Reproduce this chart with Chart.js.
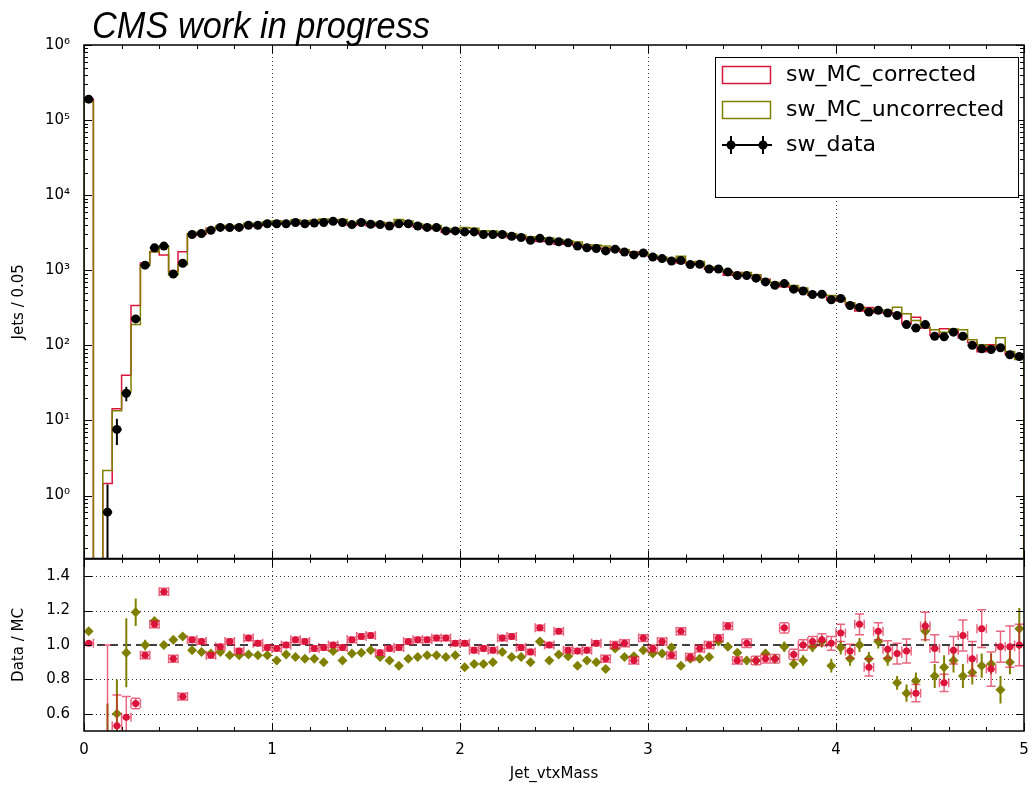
<!DOCTYPE html>
<html>
<head>
<meta charset="utf-8">
<title>Jet_vtxMass</title>
<script src="https://cdn.jsdelivr.net/npm/chart.js@4.4.1/dist/chart.umd.min.js"></script>
<style>
  body { margin: 0; background: #fff; }
  #wrap { position: relative; width: 1033px; height: 785px; overflow: hidden; }
  canvas { position: absolute; left: 0; }
  #top { top: 0; }
  #bottom { top: 554px; }
</style>
</head>
<body>
<div id="wrap">
  <canvas id="top" width="1033" height="563"></canvas>
  <canvas id="bottom" width="1033" height="231"></canvas>
</div>
<script>
// binning
const binWidth = 0.05;
const xMin = 0;
const xMax = 5;
const xTickValues = [0, 1, 2, 3, 4, 5];
const xGridValues = [1, 2, 3, 4];
const xMinorStep = 0.2;

// top panel axis
const topYMin = 0.145;
const topYMax = 1e6;
const topYDecades = [0, 1, 2, 3, 4, 5, 6];

// ratio panel axis
const ratioYMin = 0.5;
const ratioYMax = 1.5;
const ratioTicks = [0.6, 0.8, 1.0, 1.2, 1.4];
const ratioGrid = [0.6, 0.8, 1.2, 1.4];
const ratioRef = 1.0;

// jets per bin
const dataCounts = [
  190000, 0, 0.6, 7.6, 23, 225, 1170, 1990, 2100, 890,
  1240, 2990, 3090, 3400, 3720, 3700, 3720, 3980, 3980, 4170,
  4170, 4170, 4330, 4170, 4250, 4330, 4500, 4330, 4060, 4330,
  4100, 4060, 3880, 4170, 4170, 3880, 3720, 3700, 3340, 3340,
  3240, 3240, 2990, 2990, 2990, 2840, 2730, 2510, 2660, 2450,
  2400, 2320, 2100, 1990, 1950, 1810, 1910, 1750, 1600, 1700,
  1500, 1430, 1330, 1350, 1190, 1200, 1040, 1040, 950, 850,
  850, 785, 700, 630, 665, 560, 530, 475, 480, 405,
  420, 340, 320, 278, 293, 270, 250, 189, 170, 189,
  132, 130, 150, 132, 100, 90, 88, 93, 75, 71
];
// only the low bins have visible error bars
const dataErr = [430, 0, 0.8, 2.9, 5, 15, 34, 45, 46, 30, 35, 55];

const mcCorrected = [
  188000, 0, 1.45, 14.3, 40, 340, 1245, 1777, 1603, 967,
  1771, 2903, 3029, 3617, 3758, 3627, 3855, 3827, 3941, 4234,
  4255, 4170, 4204, 4088, 4337, 4396, 4500, 4396, 3942, 4124,
  3886, 4251, 3959, 4234, 4088, 3767, 3612, 3558, 3212, 3307,
  3208, 3340, 3051, 3082, 2875, 2705, 2772, 2615, 2418, 2450,
  2222, 2392, 2176, 2052, 1931, 1967, 1910, 1733, 1758, 1635,
  1531, 1402, 1415, 1250, 1280, 1224, 1040, 1000, 856, 934,
  842, 863, 761, 685, 605, 593, 530, 466, 466, 401,
  393, 352, 286, 320, 271, 277, 263, 196, 236, 170,
  135, 167, 155, 125, 109, 82, 102, 94, 76, 71
];

const mcUncorrected = [
  176000, 0, 2.15, 13.5, 24, 189, 1170, 1746, 2100, 864,
  1181, 3082, 3219, 3579, 3875, 3936, 3957, 4212, 4234, 4436,
  4582, 4413, 4656, 4533, 4620, 4811, 4663, 4758, 4274, 4534,
  4227, 4366, 4264, 4739, 4533, 4172, 3957, 3936, 3591, 3553,
  3724, 3640, 3360, 3322, 3115, 3054, 2935, 2789, 2608, 2692,
  2540, 2481, 2386, 2187, 2167, 2105, 1949, 1882, 1711, 1753,
  1579, 1505, 1350, 1534, 1293, 1304, 1118, 1020, 960, 890,
  934, 863, 737, 685, 672, 629, 582, 480, 471, 460,
  426, 370, 320, 302, 287, 293, 321, 263, 215, 175,
  161, 149, 165, 161, 119, 102, 99, 126, 83, 65
];

// Data / MC
const ratioCorrected = [
  1.01, null, 0.42, 0.53, 0.58, 0.66, 0.94, 1.12, 1.31, 0.92,
  0.70, 1.03, 1.02, 0.94, 0.99, 1.02, 0.965, 1.04, 1.01, 0.985,
  0.98, 1.0, 1.03, 1.02, 0.98, 0.985, 1.0, 0.985, 1.03, 1.05,
  1.055, 0.955, 0.98, 0.985, 1.02, 1.03, 1.03, 1.04, 1.04, 1.01,
  1.01, 0.97, 0.98, 0.97, 1.04, 1.05, 0.985, 0.96, 1.10, 1.0,
  1.08, 0.97, 0.965, 0.97, 1.01, 0.92, 1.0, 1.01, 0.91, 1.04,
  0.98, 1.02, 0.94, 1.08, 0.93, 0.98, 1.0, 1.04, 1.11, 0.91,
  1.01, 0.91, 0.92, 0.92, 1.10, 0.945, 1.0, 1.02, 1.03, 1.01,
  1.07, 0.965, 1.12, 0.87, 1.08, 0.975, 0.95, 0.965, 0.72, 1.11,
  0.98, 0.78, 0.97, 1.055, 0.92, 1.095, 0.86, 0.99, 0.99, 1.0
];
const errCorrected = [
  0.005, 0, 0.58, 0.18, 0.12, 0.03, 0.02, 0.02, 0.02, 0.02,
  0.02, 0.015, 0.015, 0.015, 0.015, 0.015, 0.015, 0.015, 0.015, 0.015,
  0.015, 0.015, 0.015, 0.015, 0.015, 0.015, 0.015, 0.015, 0.015, 0.015,
  0.015, 0.015, 0.015, 0.015, 0.015, 0.015, 0.015, 0.015, 0.015, 0.015,
  0.015, 0.015, 0.015, 0.015, 0.015, 0.015, 0.015, 0.015, 0.015, 0.015,
  0.015, 0.015, 0.015, 0.015, 0.015, 0.02, 0.02, 0.02, 0.02, 0.02,
  0.02, 0.02, 0.02, 0.02, 0.02, 0.02, 0.02, 0.02, 0.02, 0.02,
  0.025, 0.025, 0.025, 0.025, 0.03, 0.03, 0.03, 0.03, 0.035, 0.04,
  0.05, 0.04, 0.06, 0.05, 0.05, 0.05, 0.06, 0.07, 0.05, 0.08,
  0.08, 0.05, 0.08, 0.09, 0.1, 0.11, 0.1, 0.09, 0.12, 0.12
];

const ratioUncorrected = [
  1.08, null, 0.28, 0.6, 0.955, 1.19, 1.0, 1.14, 1.0, 1.03,
  1.05, 0.97, 0.96, 0.95, 0.96, 0.94, 0.94, 0.945, 0.94, 0.94,
  0.91, 0.945, 0.93, 0.92, 0.92, 0.9, 0.965, 0.91, 0.95, 0.955,
  0.97, 0.93, 0.91, 0.88, 0.92, 0.93, 0.94, 0.94, 0.93, 0.94,
  0.87, 0.89, 0.89, 0.9, 0.96, 0.93, 0.93, 0.9, 1.02, 0.91,
  0.945, 0.935, 0.88, 0.91, 0.9, 0.86, 0.98, 0.93, 0.935, 0.97,
  0.95, 0.95, 0.985, 0.88, 0.92, 0.92, 0.93, 1.02, 0.99, 0.955,
  0.91, 0.91, 0.95, 0.92, 0.99, 0.89, 0.91, 0.99, 1.02, 0.88,
  0.985, 0.92, 1.0, 0.92, 1.02, 0.92, 0.78, 0.72, 0.79, 1.08,
  0.82, 0.87, 0.91, 0.82, 0.84, 0.88, 0.89, 0.74, 0.9, 1.095
];
const errUncorrected = [
  0.005, 0, 0.38, 0.2, 0.2, 0.08, 0.03, 0.02, 0.02, 0.02,
  0.012, 0.012, 0.012, 0.012, 0.012, 0.012, 0.012, 0.012, 0.012, 0.012,
  0.012, 0.012, 0.012, 0.012, 0.012, 0.012, 0.012, 0.012, 0.012, 0.012,
  0.012, 0.012, 0.012, 0.012, 0.012, 0.012, 0.012, 0.012, 0.012, 0.012,
  0.012, 0.012, 0.012, 0.012, 0.012, 0.012, 0.012, 0.012, 0.012, 0.012,
  0.015, 0.015, 0.015, 0.015, 0.015, 0.015, 0.015, 0.015, 0.015, 0.015,
  0.02, 0.02, 0.02, 0.02, 0.02, 0.02, 0.02, 0.02, 0.02, 0.02,
  0.025, 0.025, 0.025, 0.025, 0.03, 0.03, 0.03, 0.03, 0.035, 0.04,
  0.04, 0.04, 0.04, 0.04, 0.04, 0.04, 0.04, 0.05, 0.05, 0.06,
  0.07, 0.07, 0.07, 0.07, 0.07, 0.07, 0.06, 0.08, 0.07, 0.12
];

const CRIMSON = "#dc143c";
const OLIVE = "#808000";
const SUP = ["⁰", "¹", "²", "³", "⁴", "⁵", "⁶", "⁷", "⁸", "⁹"];

Chart.defaults.font.family = '"DejaVu Sans", sans-serif';
Chart.defaults.font.size = 15;
Chart.defaults.color = "#000";

// empty bins sit below the log axis
const logFloor = 1e-3;

function stepPoints(vals) {
  const pts = [{ x: xMin, y: logFloor }];
  vals.forEach((v, i) => pts.push({ x: xMin + i * binWidth, y: v > 0 ? v : logFloor }));
  pts.push({ x: xMin + vals.length * binWidth, y: vals[vals.length - 1] });
  pts.push({ x: xMin + vals.length * binWidth, y: logFloor });
  return pts;
}

function centerPoints(vals, errs) {
  const pts = [];
  vals.forEach((v, i) => {
    if (v === null || v === 0) return;
    pts.push({ x: xMin + (i + 0.5) * binWidth, y: v, e: errs[i] || 0 });
  });
  return pts;
}

function minorValues(from, to, step) {
  const out = [];
  for (let v = from; v <= to + 1e-9; v += step) out.push(Math.round(v * 1000) / 1000);
  return out;
}

function logMinorValues() {
  const out = [];
  for (let k = -1; k <= 5; k++) {
    for (let m = 2; m <= 9; m++) {
      const v = m * Math.pow(10, k);
      if (v > topYMin && v < topYMax) out.push(v);
    }
  }
  return out;
}

// fixed axis box sizes so both panels line up
function fixY(s) {
  s.width = 84;
  s.paddingTop = 0;
  s.paddingBottom = 0;
}
function fixX(s) {
  s.height = 54;
}

// grid, inward ticks, frame and error bars
const axisDecor = {
  id: "axisDecor",
  beforeDatasetsDraw(chart, args, o) {
    const { ctx, chartArea: a } = chart;
    const x = chart.scales.x, y = chart.scales.y;
    ctx.save();
    ctx.strokeStyle = "#333";
    ctx.lineWidth = 1;
    ctx.setLineDash([1, 3]);
    ctx.beginPath();
    o.xGrid.forEach((v) => {
      const p = Math.round(x.getPixelForValue(v)) + 0.5;
      ctx.moveTo(p, a.top);
      ctx.lineTo(p, a.bottom);
    });
    o.yGrid.forEach((v) => {
      const p = Math.round(y.getPixelForValue(v)) + 0.5;
      ctx.moveTo(a.left, p);
      ctx.lineTo(a.right, p);
    });
    ctx.stroke();
    ctx.restore();
  },
  beforeDatasetDraw(chart, args) {
    const ds = chart.data.datasets[args.index];
    const st = ds.errStyle;
    if (!st) return;
    const { ctx, chartArea: a } = chart;
    const x = chart.scales.x, y = chart.scales.y;
    ctx.save();
    ctx.beginPath();
    ctx.rect(a.left, a.top, a.width, a.height);
    ctx.clip();
    ctx.strokeStyle = st.color;
    ctx.lineWidth = st.width;
    ctx.beginPath();
    ds.data.forEach((p) => {
      const px = x.getPixelForValue(p.x);
      const py = y.getPixelForValue(p.y);
      let low = p.y - p.e;
      if (st.floor !== undefined && low <= 0) low = st.floor;
      const lo = y.getPixelForValue(low);
      const hi = y.getPixelForValue(p.y + p.e);
      if (p.e > 0) {
        ctx.moveTo(px, lo);
        ctx.lineTo(px, hi);
        if (st.cap) {
          ctx.moveTo(px - st.cap, lo);
          ctx.lineTo(px + st.cap, lo);
          ctx.moveTo(px - st.cap, hi);
          ctx.lineTo(px + st.cap, hi);
        }
      }
      if (st.xHalf) {
        const x0 = x.getPixelForValue(p.x - st.xHalf);
        const x1 = x.getPixelForValue(p.x + st.xHalf);
        ctx.moveTo(x0, py);
        ctx.lineTo(x1, py);
        if (st.cap) {
          ctx.moveTo(x0, py - st.cap);
          ctx.lineTo(x0, py + st.cap);
          ctx.moveTo(x1, py - st.cap);
          ctx.lineTo(x1, py + st.cap);
        }
      }
    });
    ctx.stroke();
    ctx.restore();
  },
  afterDatasetsDraw(chart, args, o) {
    const { ctx, chartArea: a } = chart;
    const x = chart.scales.x, y = chart.scales.y;
    ctx.save();
    ctx.strokeStyle = "#000";
    ctx.lineWidth = 1;
    ctx.beginPath();
    const tick = (vals, len, horizontal) => {
      vals.forEach((v) => {
        if (horizontal) {
          const p = Math.round(x.getPixelForValue(v)) + 0.5;
          ctx.moveTo(p, a.bottom); ctx.lineTo(p, a.bottom - len);
          ctx.moveTo(p, a.top); ctx.lineTo(p, a.top + len);
        } else {
          const p = Math.round(y.getPixelForValue(v)) + 0.5;
          ctx.moveTo(a.left, p); ctx.lineTo(a.left + len, p);
          ctx.moveTo(a.right, p); ctx.lineTo(a.right - len, p);
        }
      });
    };
    tick(o.xMajor, 8, true);
    tick(o.xMinor, 4, true);
    tick(o.yMajor, 8, false);
    tick(o.yMinor, 4, false);
    ctx.stroke();
    ctx.lineWidth = 1.5;
    ctx.strokeRect(a.left, a.top, a.width, a.height);
    ctx.restore();
  },
  afterDraw(chart, args, o) {
    if (o.extras) o.extras(chart);
  }
};

function drawTitleAndLegend(chart) {
  const ctx = chart.ctx;
  const ds = chart.data.datasets;
  ctx.save();
  ctx.fillStyle = "#000";
  ctx.font = 'italic 36px "Liberation Sans", sans-serif';
  ctx.textBaseline = "alphabetic";
  const title = "CMS work in progress";
  const w = ctx.measureText(title).width;
  ctx.translate(92, 38);
  ctx.scale(338 / w, 1);
  ctx.fillText(title, 0, 0);
  ctx.restore();

  ctx.save();
  ctx.fillStyle = "#fff";
  ctx.fillRect(715, 57, 303, 140);
  ctx.strokeStyle = "#000";
  ctx.lineWidth = 1;
  ctx.strokeRect(715.5, 57.5, 303, 140);

  const rows = [75, 110, 145];
  ctx.lineWidth = 1.5;
  [0, 1].forEach((k) => {
    ctx.strokeStyle = ds[k].borderColor;
    ctx.strokeRect(722.5, rows[k] - 8.5, 48, 17);
  });
  // data entry: markers with error bars
  ctx.strokeStyle = "#000";
  ctx.fillStyle = "#000";
  ctx.lineWidth = 2;
  ctx.beginPath();
  ctx.moveTo(722, rows[2]); ctx.lineTo(772, rows[2]);
  [731, 763].forEach((cx) => { ctx.moveTo(cx, rows[2] - 9); ctx.lineTo(cx, rows[2] + 9); });
  ctx.stroke();
  [731, 763].forEach((cx) => {
    ctx.beginPath();
    ctx.arc(cx, rows[2], 4.5, 0, Math.PI * 2);
    ctx.fill();
  });

  ctx.fillStyle = "#000";
  ctx.font = '22px "DejaVu Sans", sans-serif';
  ctx.textBaseline = "middle";
  [0, 1, 2].forEach((k) => ctx.fillText(ds[k].label, 786, rows[k]));
  ctx.restore();
}

const xMinorTicks = minorValues(xMin, xMax, xMinorStep);

new Chart(document.getElementById("top"), {
  type: "line",
  data: {
    datasets: [
      {
        label: "sw_MC_corrected",
        data: stepPoints(mcCorrected),
        borderColor: CRIMSON,
        borderWidth: 1.5,
        stepped: "before",
        pointRadius: 0,
        fill: false,
        order: 2
      },
      {
        label: "sw_MC_uncorrected",
        data: stepPoints(mcUncorrected),
        borderColor: OLIVE,
        borderWidth: 1.5,
        stepped: "before",
        pointRadius: 0,
        fill: false,
        order: 1
      },
      {
        label: "sw_data",
        type: "scatter",
        data: centerPoints(dataCounts, dataErr),
        showLine: false,
        pointRadius: 4.5,
        pointBackgroundColor: "#000",
        pointBorderColor: "#000",
        pointBorderWidth: 0,
        errStyle: { color: "#000", width: 2, cap: 0, xHalf: binWidth / 2, floor: logFloor },
        order: 0
      }
    ]
  },
  options: {
    responsive: false,
    animation: false,
    layout: { padding: { top: 45, bottom: 2, left: 0, right: 9 } },
    scales: {
      x: { type: "linear", min: xMin, max: xMax, display: false },
      y: {
        type: "logarithmic",
        min: topYMin,
        max: topYMax,
        afterBuildTicks: (s) => { s.ticks = topYDecades.map((k) => ({ value: Math.pow(10, k) })); },
        afterFit: fixY,
        ticks: {
          autoSkip: false,
          padding: 6,
          callback: (v) => "10" + SUP[Math.round(Math.log10(v))]
        },
        grid: { display: false },
        border: { display: false },
        title: { display: true, text: "Jets / 0.05", font: { size: 15 }, padding: { top: 10, bottom: 0 } }
      }
    },
    plugins: {
      legend: { display: false },
      tooltip: { enabled: false },
      axisDecor: {
        xGrid: xGridValues,
        yGrid: [],
        xMajor: xTickValues,
        xMinor: xMinorTicks,
        yMajor: topYDecades.map((k) => Math.pow(10, k)),
        yMinor: logMinorValues(),
        extras: drawTitleAndLegend
      }
    }
  },
  plugins: [axisDecor]
});

new Chart(document.getElementById("bottom"), {
  type: "scatter",
  data: {
    datasets: [
      {
        label: "ratio_corrected",
        data: centerPoints(ratioCorrected, errCorrected),
        pointStyle: "circle",
        pointRadius: 3.5,
        pointBackgroundColor: CRIMSON,
        pointBorderColor: CRIMSON,
        pointBorderWidth: 0,
        clip: 0,
        errStyle: { color: "rgba(220,20,60,0.65)", width: 1.5, cap: 4.5, xHalf: binWidth / 2 },
        order: 0
      },
      {
        label: "ratio_uncorrected",
        data: centerPoints(ratioUncorrected, errUncorrected),
        pointStyle: "rectRot",
        pointRadius: 5,
        pointBackgroundColor: OLIVE,
        pointBorderColor: OLIVE,
        pointBorderWidth: 0,
        clip: 0,
        errStyle: { color: OLIVE, width: 2, cap: 0, xHalf: 0 },
        order: 1
      },
      {
        label: "unity",
        data: [{ x: xMin, y: ratioRef }, { x: xMax, y: ratioRef }],
        showLine: true,
        borderColor: "#000",
        borderWidth: 1.5,
        borderDash: [8, 5],
        pointRadius: 0,
        order: 2
      }
    ]
  },
  options: {
    responsive: false,
    animation: false,
    layout: { padding: { top: 1, bottom: 0, left: 0, right: 9 } },
    scales: {
      x: {
        type: "linear",
        min: xMin,
        max: xMax,
        afterBuildTicks: (s) => { s.ticks = xTickValues.map((v) => ({ value: v })); },
        afterFit: fixX,
        ticks: { maxRotation: 0, padding: 2, callback: (v) => String(v) },
        grid: { display: false },
        border: { display: false },
        title: { display: true, text: "Jet_vtxMass", font: { size: 15 }, padding: { top: 0, bottom: 2 } }
      },
      y: {
        type: "linear",
        min: ratioYMin,
        max: ratioYMax,
        afterBuildTicks: (s) => { s.ticks = ratioTicks.map((v) => ({ value: v })); },
        afterFit: fixY,
        ticks: { padding: 6, callback: (v) => v.toFixed(1) },
        grid: { display: false },
        border: { display: false },
        title: { display: true, text: "Data / MC", font: { size: 15 }, padding: { top: 10, bottom: 0 } }
      }
    },
    plugins: {
      legend: { display: false },
      tooltip: { enabled: false },
      axisDecor: {
        xGrid: xGridValues,
        yGrid: ratioGrid,
        xMajor: xTickValues,
        xMinor: xMinorTicks,
        yMajor: ratioTicks,
        yMinor: []
      }
    }
  },
  plugins: [axisDecor]
});
</script>
</body>
</html>
